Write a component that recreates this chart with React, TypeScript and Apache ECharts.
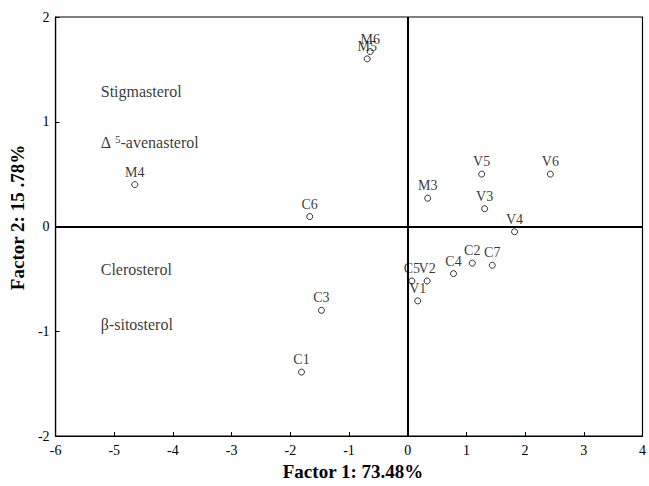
import React, { useEffect, useRef } from "react";
import * as echarts from "echarts";

const pointNames = ["M6", "M5", "M4", "C6", "M3", "V5", "V6", "V3", "V4", "C2", "C7", "C4", "C5", "V2", "V1", "C3", "C1"];
const factor1 = [-0.64, -0.69, -4.65, -1.67, 0.34, 1.26, 2.43, 1.31, 1.82, 1.10, 1.44, 0.78, 0.07, 0.33, 0.17, -1.47, -1.81];
const factor2 = [1.67, 1.60, 0.40, 0.095, 0.27, 0.50, 0.50, 0.17, -0.05, -0.35, -0.37, -0.45, -0.52, -0.52, -0.71, -0.80, -1.39];

const noteNames = ["Stigmasterol", "{a|Δ }{s|5}{a|-avenasterol}", "Clerosterol", "β-sitosterol"];
const noteX = [-5.23, -5.23, -5.23, -5.23];
const noteY = [1.29, 0.80, -0.41, -0.94];

const FONT = "'Liberation Serif', 'Times New Roman', serif";

export default function App() {
  const ref = useRef<HTMLDivElement>(null);
  useEffect(() => {
    if (!ref.current) return;
    const chart = echarts.init(ref.current, null, { renderer: "svg" });
    chart.setOption({
      animation: false,
      backgroundColor: "#fff",
      textStyle: { fontFamily: FONT, color: "#000" },
      grid: { left: 52, right: 4, top: 17, bottom: 50, show: true, borderColor: "#000", borderWidth: 1.2 },
      xAxis: {
        type: "value",
        min: -6,
        max: 4,
        interval: 1,
        name: "Factor 1: 73.48%",
        nameLocation: "middle",
        nameGap: 26,
        nameTextStyle: { fontFamily: FONT, fontWeight: "bold", fontSize: 19, color: "#000", padding: [0, 0, 0, 8] },
        axisLine: { onZero: false, lineStyle: { color: "#000", width: 1.2 } },
        axisTick: { inside: true, length: 4, lineStyle: { color: "#000" } },
        axisLabel: { fontFamily: FONT, fontSize: 14, color: "#000", margin: 7 },
        splitLine: { show: false },
      },
      yAxis: {
        type: "value",
        min: -2,
        max: 2,
        interval: 1,
        name: "Factor 2: 15 .78%",
        nameLocation: "middle",
        nameGap: 25,
        nameTextStyle: { fontFamily: FONT, fontWeight: "bold", fontSize: 19, color: "#000", padding: [0, 0, 0, 18] },
        axisLine: { onZero: false, lineStyle: { color: "#000", width: 1.2 } },
        axisTick: { inside: true, length: 4, lineStyle: { color: "#000" } },
        axisLabel: { fontFamily: FONT, fontSize: 14, color: "#000", margin: 6 },
        splitLine: { show: false },
      },
      series: [
        {
          type: "scatter",
          symbol: "circle",
          symbolSize: 6,
          itemStyle: { color: "#fff", borderColor: "#000", borderWidth: 1 },
          label: {
            show: true,
            position: "top",
            distance: 2,
            formatter: (p: any) => p.name,
            fontFamily: FONT,
            fontSize: 14,
            color: "#000",
            textBorderWidth: 0,
          },
          data: pointNames.map((n, i) => ({ name: n, value: [factor1[i], factor2[i]] })),
          markLine: {
            silent: true,
            symbol: "none",
            label: { show: false },
            lineStyle: { color: "#000", width: 2, type: "solid" },
            data: [{ xAxis: 0 }, { yAxis: 0 }],
          },
          z: 3,
        },
        {
          type: "scatter",
          symbolSize: 0,
          silent: true,
          label: {
            show: true,
            position: [0, 0],
            align: "left",
            verticalAlign: "middle",
            formatter: (p: any) => p.name,
            fontFamily: FONT,
            fontSize: 16,
            color: "#000",
            rich: {
              a: { fontFamily: FONT, fontSize: 16, color: "#000" },
              s: { fontFamily: FONT, fontSize: 11, color: "#000", verticalAlign: "top", padding: [0, 0, 7, 0] },
            },
          },
          data: noteNames.map((n, i) => ({ name: n, value: [noteX[i], noteY[i]] })),
        },
      ],
    });
    return () => chart.dispose();
  }, []);
  return <div ref={ref} style={{ width: 649, height: 486, position: "absolute", left: 0, top: 0 }} />;
}
